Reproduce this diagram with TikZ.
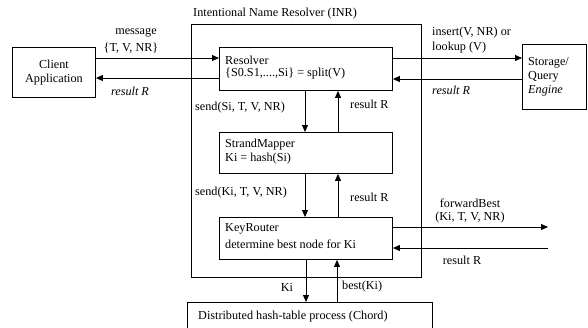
\documentclass[tikz,border=0pt]{standalone}
\usepackage{fontspec}
\setmainfont{Liberation Serif}
\usetikzlibrary{arrows.meta}
\begin{document}
\begin{tikzpicture}[x=1pt,y=-1pt,
  box/.style={draw,line width=0.9pt},
  lbl/.style={inner sep=0pt,font=\fontsize{12.2}{14}\selectfont},
  arr/.style={line width=0.9pt,-{Triangle[length=7pt,width=6pt]}}]
\useasboundingbox (0,0) rectangle (588,327);
% boxes
\node[box,minimum width=83pt,minimum height=50pt,anchor=north west,align=center,inner sep=0pt,font=\fontsize{12.2}{14.5}\selectfont] (client) at (12,47) {Client\\Application};
\node[box,minimum width=230pt,minimum height=253pt,anchor=north west] (inr) at (191,24) {};
\node[lbl,anchor=west] (inrt) at (193,14) {Intentional Name Resolver (INR)};
\node[box,minimum width=173pt,minimum height=43pt,anchor=north west] (res) at (219,47) {};
\node[lbl,anchor=west] (rest1) at (225,60) {Resolver};
\node[lbl,anchor=west] (rest2) at (225,74) {\{S0.S1,....,Si\} = split(V)};
\node[box,minimum width=64pt,minimum height=65pt,anchor=north west] (stor) at (522,44) {};
\node[lbl,anchor=west] (stor1) at (528,63) {Storage/};
\node[lbl,anchor=west] (stor2) at (528,77) {Query};
\node[lbl,anchor=west] (stor3) at (528,91) {\textit{Engine}};
\node[box,minimum width=173pt,minimum height=41pt,anchor=north west] (sm) at (219,132) {};
\node[lbl,anchor=west] (sm1) at (225,145) {StrandMapper};
\node[lbl,anchor=west] (sm2) at (225,159) {Ki = hash(Si)};
\node[box,minimum width=173pt,minimum height=42pt,anchor=north west] (kr) at (219,217) {};
\node[lbl,anchor=west] (kr1) at (225,229) {KeyRouter};
\node[lbl,anchor=west] (kr2) at (225,244) {determine best node for Ki};
\node[box,minimum width=245pt,minimum height=28pt,anchor=north west] (dht) at (187,302) {};
\node[lbl,anchor=west] (dht1) at (198,317) {Distributed hash-table process (Chord)};
% free ends
\coordinate (fwdend) at (548,227);
\coordinate (resend) at (548,248);
% connectors
\draw[arr] (client.east |- 0,58) -- (res.west |- 0,58);
\draw[arr] (res.west |- 0,78) -- (client.east |- 0,78);
\draw[arr] (res.east |- 0,58) -- (stor.west |- 0,58);
\draw[arr] (stor.west |- 0,79) -- (res.east |- 0,79);
\draw[arr] (res.south -| 305,0) -- (sm.north -| 305,0);
\draw[arr] (sm.north -| 338,0) -- (res.south -| 338,0);
\draw[arr] (sm.south -| 305,0) -- (kr.north -| 305,0);
\draw[arr] (kr.north -| 338,0) -- (sm.south -| 338,0);
\draw[arr] (kr.south -| 306,0) -- (dht.north -| 306,0);
\draw[arr] (dht.north -| 337,0) -- (kr.south -| 337,0);
\draw[arr] (kr.east |- fwdend) -- (fwdend);
\draw[arr] (resend) -- (kr.east |- resend);
% labels
\node[lbl] (l1) at (136,33) {message};
\node[lbl] (l2) at (131,48) {\{T, V, NR\}};
\node[lbl] (l3) at (130,91) {\textit{result R}};
\node[lbl,anchor=west] (l4) at (432,33) {insert(V, NR) or};
\node[lbl,anchor=west] (l5) at (432,48) {lookup (V)};
\node[lbl,anchor=west] (l6) at (432,90) {\textit{result R}};
\node[lbl,anchor=west] (l7) at (195,108) {send(Si, T, V, NR)};
\node[lbl,anchor=west] (l8) at (350,104) {result R};
\node[lbl,anchor=west] (l9) at (195,193) {send(Ki, T, V, NR)};
\node[lbl,anchor=west] (l10) at (350,197) {result R};
\node[lbl] (l11) at (287,287) {Ki};
\node[lbl,anchor=west] (l12) at (342,287) {best(Ki)};
\node[lbl] (l13) at (470,203) {forwardBest};
\node[lbl] (l14) at (470,218) {(Ki, T, V, NR)};
\node[lbl] (l15) at (462,260) {result R};
\end{tikzpicture}
\end{document}
